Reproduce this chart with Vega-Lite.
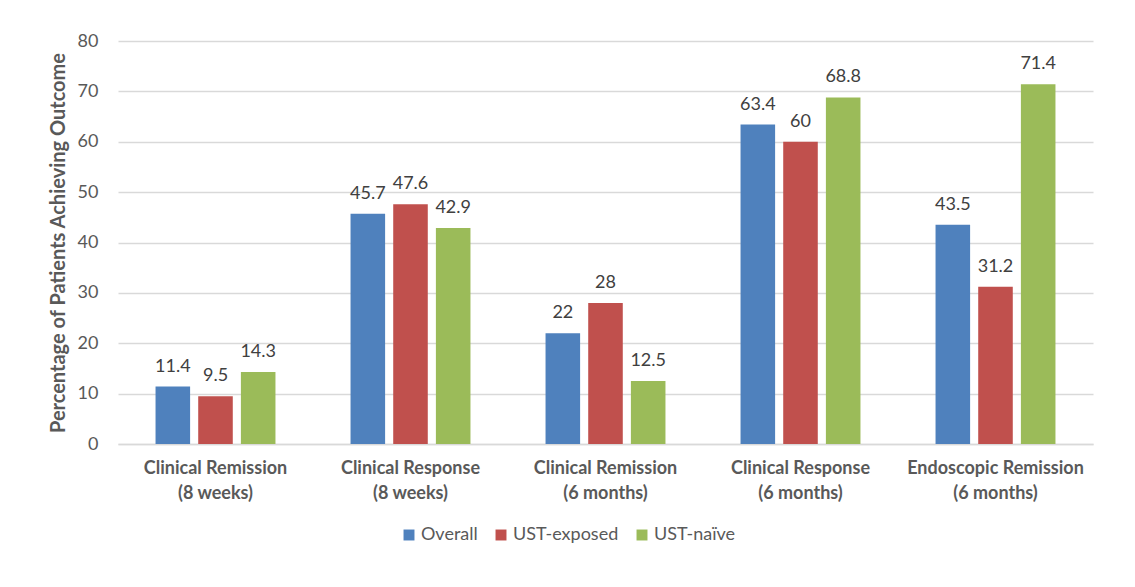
{
  "$schema": "https://vega.github.io/schema/vega-lite/v6.json",
  "autosize": {"type": "none"},
  "width": 975,
  "height": 403,
  "padding": {"left": 118, "top": 41, "right": 42, "bottom": 143},
  "background": "white",
  "config": {
    "font": "Lato",
    "view": {"stroke": null},
    "axis": {"labelFont": "Lato", "titleFont": "Lato"}
  },
  "data": {
    "values": [
      {"outcome": "Clinical Remission\n(8 weeks)", "group": "Overall", "value": 11.4},
      {"outcome": "Clinical Remission\n(8 weeks)", "group": "UST-exposed", "value": 9.5},
      {"outcome": "Clinical Remission\n(8 weeks)", "group": "UST-naïve", "value": 14.3},
      {"outcome": "Clinical Response\n(8 weeks)", "group": "Overall", "value": 45.7},
      {"outcome": "Clinical Response\n(8 weeks)", "group": "UST-exposed", "value": 47.6},
      {"outcome": "Clinical Response\n(8 weeks)", "group": "UST-naïve", "value": 42.9},
      {"outcome": "Clinical Remission\n(6 months)", "group": "Overall", "value": 22},
      {"outcome": "Clinical Remission\n(6 months)", "group": "UST-exposed", "value": 28},
      {"outcome": "Clinical Remission\n(6 months)", "group": "UST-naïve", "value": 12.5},
      {"outcome": "Clinical Response\n(6 months)", "group": "Overall", "value": 63.4},
      {"outcome": "Clinical Response\n(6 months)", "group": "UST-exposed", "value": 60},
      {"outcome": "Clinical Response\n(6 months)", "group": "UST-naïve", "value": 68.8},
      {"outcome": "Endoscopic Remission\n(6 months)", "group": "Overall", "value": 43.5},
      {"outcome": "Endoscopic Remission\n(6 months)", "group": "UST-exposed", "value": 31.2},
      {"outcome": "Endoscopic Remission\n(6 months)", "group": "UST-naïve", "value": 71.4}
    ]
  },
  "encoding": {
    "x": {
      "field": "outcome",
      "type": "nominal",
      "sort": null,
      "scale": {"paddingInner": 0.385, "paddingOuter": 0.1925},
      "axis": {
        "title": null,
        "labelAngle": 0,
        "labelExpr": "split(datum.label, '\\n')",
        "labelFontSize": 18,
        "labelFontWeight": "bold",
        "labelColor": "#595959",
        "labelLineHeight": 25,
        "labelPadding": 15,
        "ticks": false,
        "domainColor": "#d9d9d9",
        "domainWidth": 1.5
      }
    },
    "xOffset": {
      "field": "group",
      "type": "nominal",
      "scale": {"paddingInner": 0.19, "paddingOuter": 0}
    },
    "y": {
      "field": "value",
      "type": "quantitative",
      "scale": {"domain": [0, 80]},
      "axis": {
        "title": "Percentage of Patients Achieving Outcome",
        "titleFontSize": 20,
        "titleFontWeight": "bold",
        "titleColor": "#595959",
        "titlePadding": 9,
        "values": [0, 10, 20, 30, 40, 50, 60, 70, 80],
        "labelFontSize": 18,
        "labelColor": "#595959",
        "labelPadding": 20,
        "ticks": false,
        "domain": false,
        "gridColor": "#d9d9d9",
        "gridWidth": 1.5
      }
    }
  },
  "layer": [
    {
      "mark": {"type": "bar"},
      "encoding": {
        "color": {
          "field": "group",
          "type": "nominal",
          "scale": {
            "domain": ["Overall", "UST-exposed", "UST-naïve"],
            "range": ["#4F81BD", "#C0504D", "#9BBB59"]
          },
          "legend": {
            "title": null,
            "orient": "none",
            "direction": "horizontal",
            "legendX": 282,
            "legendY": 485,
            "symbolType": "square",
            "symbolSize": 120,
            "symbolStrokeWidth": 0,
            "labelFontSize": 18,
            "labelColor": "#595959",
            "columnPadding": 14,
            "labelOffset": 3
          }
        }
      }
    },
    {
      "mark": {"type": "text", "baseline": "middle", "dy": -20, "fontSize": 18, "color": "#404040"},
      "encoding": {
        "text": {"field": "value", "type": "quantitative"}
      }
    }
  ]
}
